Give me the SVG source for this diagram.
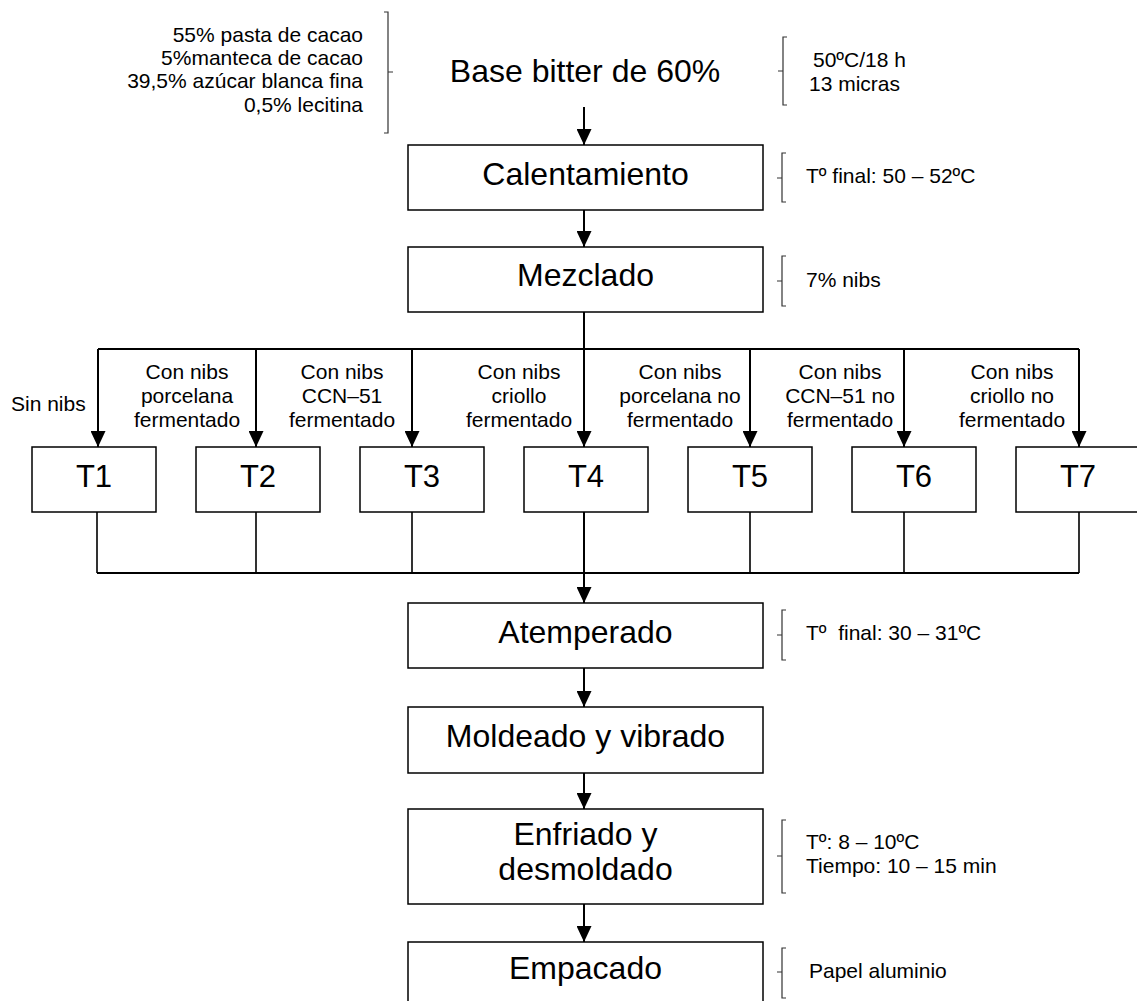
<svg xmlns="http://www.w3.org/2000/svg" width="1137" height="1001" viewBox="0 0 1137 1001">
<style>
text{font-family:"Liberation Sans",Arial,sans-serif;fill:#000}
.big{font-size:32px;text-anchor:middle}
.t{font-size:31px;text-anchor:middle}
.lbl{font-size:21px;text-anchor:middle}
.note{font-size:21px}
.box{fill:#fff;stroke:#000;stroke-width:1.5}
.con{fill:none;stroke:#000;stroke-width:2}
.thin{fill:none;stroke:#000;stroke-width:1.6}
.br{fill:none;stroke:#333;stroke-width:1.2}
</style>
<defs>
<marker id="ah" viewBox="0 0 15 16" refX="7.5" refY="16" markerWidth="15" markerHeight="16" markerUnits="userSpaceOnUse" orient="auto-start-reverse">
<path d="M0,0 L15,0 L7.5,16 z" fill="#000"/>
</marker>
<marker id="ad" viewBox="0 0 16 15" refX="16" refY="7.5" markerWidth="16" markerHeight="15" markerUnits="userSpaceOnUse" orient="auto">
<path d="M0,0 L16,7.5 L0,15 z" fill="#000"/>
</marker>
</defs>

<g id="connectors">
<path class="con" d="M584,107 V145" marker-end="url(#ad)"/>
<path class="con" d="M584,210 V247" marker-end="url(#ad)"/>
<path class="con" d="M584,312 V447" marker-end="url(#ad)"/>
<path class="con" d="M98,349 H1079"/>
<path class="con" d="M98,349 V447" marker-end="url(#ad)"/>
<path class="con" d="M256,349 V447" marker-end="url(#ad)"/>
<path class="con" d="M412,349 V447" marker-end="url(#ad)"/>
<path class="con" d="M750,349 V447" marker-end="url(#ad)"/>
<path class="con" d="M904,349 V447" marker-end="url(#ad)"/>
<path class="con" d="M1079,349 V447" marker-end="url(#ad)"/>
<path class="thin" d="M97,512 V573 M256,512 V573 M412,512 V573 M750,512 V573 M904,512 V573 M1079,512 V573"/>
<path class="con" d="M97,573 H1079"/>
<path class="con" d="M584,512 V603" marker-end="url(#ad)"/>
<path class="con" d="M584,668 V707" marker-end="url(#ad)"/>
<path class="con" d="M584,773 V809" marker-end="url(#ad)"/>
<path class="con" d="M584,904 V942" marker-end="url(#ad)"/>
</g>

<g id="ingredientes">
<text class="note" x="363" y="42" text-anchor="end">55% pasta de cacao</text>
<text class="note" x="363" y="65" text-anchor="end">5%manteca de cacao</text>
<text class="note" x="363" y="88" text-anchor="end">39,5% azúcar blanca fina</text>
<text class="note" x="363" y="112" text-anchor="end">0,5% lecitina</text>
<path class="br" d="M384,12 H388 V133 H384 M388,72 H393"/>
</g>

<g id="base">
<text class="big" x="585" y="82">Base bitter de 60%</text>
<path class="br" d="M787,37 H783 V105 H787 M783,71 H778"/>
<text class="note" x="813" y="67">50ºC/18 h</text>
<text class="note" x="809" y="91">13 micras</text>
</g>

<g id="calentamiento">
<rect class="box" x="408" y="145" width="355" height="65"/>
<text class="big" x="585.5" y="185">Calentamiento</text>
<path class="br" d="M786,153 H782 V202 H786 M782,178 H777"/>
<text class="note" x="806" y="183">Tº final: 50 – 52ºC</text>
</g>

<g id="mezclado">
<rect class="box" x="408" y="247" width="355" height="65"/>
<text class="big" x="585.5" y="286">Mezclado</text>
<path class="br" d="M786,256 H782 V306 H786 M782,281 H777"/>
<text class="note" x="806" y="287">7% nibs</text>
</g>

<g id="labels">
<text class="note" x="11" y="411">Sin nibs</text>
<text class="lbl" x="187" y="379">Con nibs</text>
<text class="lbl" x="187" y="403">porcelana</text>
<text class="lbl" x="187" y="427">fermentado</text>
<text class="lbl" x="342" y="379">Con nibs</text>
<text class="lbl" x="342" y="403">CCN–51</text>
<text class="lbl" x="342" y="427">fermentado</text>
<text class="lbl" x="519" y="379">Con nibs</text>
<text class="lbl" x="519" y="403">criollo</text>
<text class="lbl" x="519" y="427">fermentado</text>
<text class="lbl" x="680" y="379">Con nibs</text>
<text class="lbl" x="680" y="403">porcelana no</text>
<text class="lbl" x="680" y="427">fermentado</text>
<text class="lbl" x="840" y="379">Con nibs</text>
<text class="lbl" x="840" y="403">CCN–51 no</text>
<text class="lbl" x="840" y="427">fermentado</text>
<text class="lbl" x="1012" y="379">Con nibs</text>
<text class="lbl" x="1012" y="403">criollo no</text>
<text class="lbl" x="1012" y="427">fermentado</text>
</g>

<g id="T1"><rect class="box" x="32" y="447" width="124" height="65"/><text class="t" x="94" y="487">T1</text></g>
<g id="T2"><rect class="box" x="196" y="447" width="124" height="65"/><text class="t" x="258" y="487">T2</text></g>
<g id="T3"><rect class="box" x="360" y="447" width="124" height="65"/><text class="t" x="422" y="487">T3</text></g>
<g id="T4"><rect class="box" x="524" y="447" width="124" height="65"/><text class="t" x="586" y="487">T4</text></g>
<g id="T5"><rect class="box" x="688" y="447" width="124" height="65"/><text class="t" x="750" y="487">T5</text></g>
<g id="T6"><rect class="box" x="852" y="447" width="124" height="65"/><text class="t" x="914" y="487">T6</text></g>
<g id="T7"><rect class="box" x="1016" y="447" width="140" height="65"/><text class="t" x="1078" y="487">T7</text></g>

<g id="atemperado">
<rect class="box" x="408" y="603" width="355" height="65"/>
<text class="big" x="585.5" y="643">Atemperado</text>
<path class="br" d="M786,610 H782 V660 H786 M782,635 H777"/>
<text class="note" x="806" y="640" xml:space="preserve">Tº  final: 30 – 31ºC</text>
</g>

<g id="moldeado">
<rect class="box" x="408" y="707" width="355" height="66"/>
<text class="big" x="585.5" y="747">Moldeado y vibrado</text>
</g>

<g id="enfriado">
<rect class="box" x="408" y="809" width="355" height="95"/>
<text class="big" x="585.5" y="845">Enfriado y</text>
<text class="big" x="585.5" y="880">desmoldado</text>
<path class="br" d="M786,820 H782 V893 H786 M782,856 H777"/>
<text class="note" x="806" y="849">Tº: 8 – 10ºC</text>
<text class="note" x="806" y="873">Tiempo: 10 – 15 min</text>
</g>

<g id="empacado">
<rect class="box" x="408" y="942" width="355" height="70"/>
<text class="big" x="585.5" y="979">Empacado</text>
<path class="br" d="M786,948 H782 V998 H786 M782,972 H777"/>
<text class="note" x="809" y="978">Papel aluminio</text>
</g>
</svg>
